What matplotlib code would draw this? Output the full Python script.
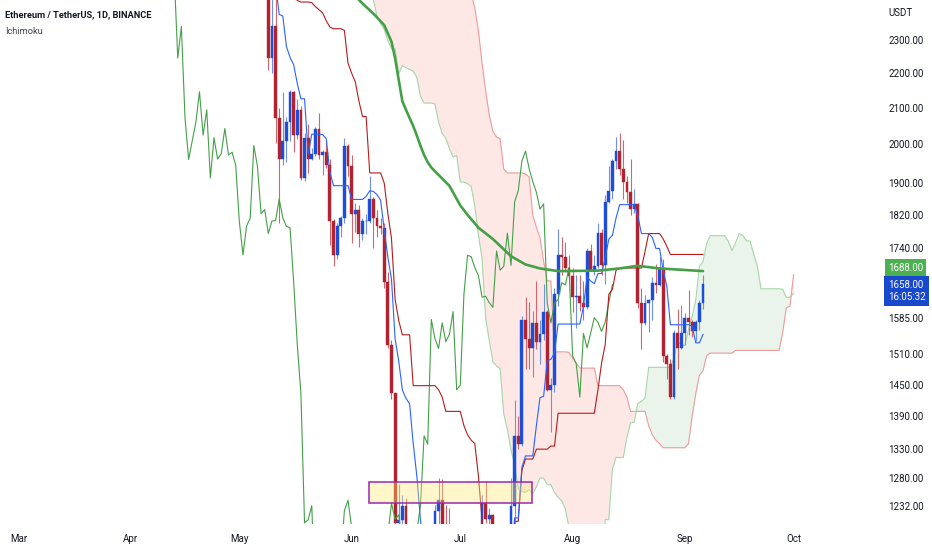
import numpy as np
import pandas as pd
import matplotlib
matplotlib.use('Agg')
import matplotlib.pyplot as plt
import matplotlib.dates as mdates
from matplotlib.patches import Rectangle
from matplotlib.ticker import FixedLocator, NullLocator, FuncFormatter
from matplotlib.transforms import blended_transform_factory, offset_copy

plt.rcParams['font.family'] = ['Roboto', 'DejaVu Sans']

# ETH/USDT daily candles, 2022-05-08 .. 2022-09-06 (last one still open)
first_day = '2022-05-08'
opens = [2636, 2518, 2245, 2342, 2072, 1960, 2010, 2060, 2146, 2025, 2095, 1912, 2018, 1961, 1975, 2043,
         1972, 1979, 1945, 1804, 1725, 1793, 1812, 1997,
         1942, 1823, 1833, 1775, 1805, 1806, 1859, 1813, 1792, 1789, 1664, 1529, 1433, 1205, 1210, 1233,
         1070, 1087, 996, 1127, 1127, 1124, 1050, 1144, 1225, 1242, 1198, 1193, 1144, 1099,
         1067, 1059, 1067, 1074, 1151, 1134, 1186, 1237, 1211, 1218, 1168, 1097, 1038, 1113, 1192, 1233,
         1354, 1339, 1582, 1542, 1522, 1575, 1536, 1551, 1599, 1440, 1449, 1636, 1724, 1721, 1696,
         1678, 1630, 1632, 1618, 1608, 1734, 1690, 1699, 1776, 1701, 1852, 1880, 1956, 1982, 1936, 1903,
         1876, 1834, 1847, 1617, 1575, 1617, 1625, 1662, 1657, 1696, 1507, 1491, 1426, 1553, 1523,
         1554, 1586, 1576, 1557, 1577, 1618]
highs = [2650, 2540, 2450, 2452, 2100, 2145, 2075, 2150, 2148, 2125, 2105, 2030, 2055, 1990, 2048, 2085,
         1985, 2012, 1960, 1810, 1800, 1818, 2016, 2000,
         1972, 1849, 1845, 1813, 1823, 1918, 1865, 1832, 1812, 1800, 1686, 1540, 1433, 1270, 1250, 1245,
         1130, 1090, 1150, 1160, 1180, 1130, 1150, 1235, 1280, 1278, 1235, 1230, 1145, 1110,
         1125, 1075, 1080, 1155, 1167, 1190, 1250, 1275, 1230, 1220, 1170, 1100, 1115, 1200, 1280, 1420,
         1390, 1590, 1630, 1620, 1600, 1665, 1580, 1660, 1602, 1462, 1650, 1785, 1766, 1755, 1725,
         1696, 1680, 1680, 1665, 1740, 1750, 1725, 1800, 1785, 1870, 1942, 1960, 2020, 2030, 2012, 1918,
         1960, 1885, 1849, 1650, 1635, 1627, 1675, 1704, 1720, 1715, 1510, 1500, 1561, 1605, 1613,
         1595, 1645, 1580, 1580, 1625, 1680]
lows = [2480, 2210, 2200, 2005, 1800, 1945, 1953, 2010, 1980, 2015, 1908, 1905, 1925, 1958, 1968, 1960,
        1920, 1938, 1748, 1700, 1715, 1767, 1800, 1918,
        1753, 1779, 1743, 1760, 1775, 1800, 1740, 1766, 1775, 1650, 1522, 1422, 1166, 1075, 1015, 1070,
        1050, 880, 980, 1065, 1100, 1040, 1045, 1130, 1190, 1190, 1172, 1140, 1075, 995,
        1035, 1043, 1050, 1072, 1090, 1117, 1172, 1205, 1200, 1155, 1090, 1035, 1006, 1080, 1185, 1190,
        1330, 1335, 1480, 1480, 1465, 1520, 1490, 1540, 1438, 1360, 1436, 1612, 1680, 1685, 1671,
        1598, 1565, 1600, 1582, 1605, 1690, 1680, 1695, 1680, 1660, 1848, 1860, 1935, 1920, 1860, 1850,
        1820, 1825, 1606, 1520, 1570, 1555, 1580, 1640, 1655, 1495, 1460, 1422, 1422, 1480, 1520,
        1528, 1550, 1545, 1538, 1560, 1605]
closes = [2518, 2245, 2342, 2072, 1960, 2010, 2060, 2146, 2025, 2095, 1912, 2018, 1961, 1975, 2043, 1972,
          1979, 1945, 1804, 1725, 1793, 1812, 1997, 1942,
          1823, 1833, 1775, 1805, 1806, 1859, 1813, 1792, 1789, 1664, 1529, 1433, 1205, 1210, 1233, 1070,
          1087, 996, 1127, 1127, 1124, 1050, 1144, 1225, 1242, 1198, 1193, 1144, 1099, 1067,
          1059, 1067, 1074, 1151, 1134, 1186, 1237, 1211, 1218, 1168, 1097, 1038, 1113, 1192, 1233, 1354,
          1339, 1582, 1542, 1522, 1575, 1536, 1551, 1599, 1440, 1449, 1636, 1724, 1721, 1696, 1678,
          1630, 1632, 1618, 1608, 1734, 1690, 1699, 1776, 1701, 1852, 1880, 1956, 1982, 1936, 1903, 1876,
          1834, 1847, 1617, 1575, 1617, 1625, 1662, 1657, 1696, 1507, 1491, 1426, 1553, 1523, 1554,
          1586, 1576, 1557, 1577, 1618, 1658]

# parts of the Ichimoku lines that need bars from before the first candle
tenkan_early = [2480, 2380, 2375, 2280, 2247]                      # May 11 - May 15
kijun_early = [2500, 2490, 2480, 2470, 2455, 2440, 2425, 2420, 2420, 2420, 2418,
               2405, 2395, 2385, 2360, 2340, 2335, 2335, 2335, 2330, 2230, 2200]   # May 11 - Jun 1
span_b_early = [2760] * 6 + [2700] * 8 + [2620] * 7 + [2560] * 5 + \
               [2500, 2450, 2400, 2330, 2230, 2150, 2080, 2035, 2020, 2015,
                1935, 1925, 1925, 1925, 1925, 1925, 1922, 1915, 1820, 1790]      # Jun 7 - Jul 22

# thick moving average
ma_dates = ['2022-05-31', '2022-06-02', '2022-06-04', '2022-06-07', '2022-06-10', '2022-06-12',
            '2022-06-13', '2022-06-14', '2022-06-15', '2022-06-16', '2022-06-17', '2022-06-18',
            '2022-06-19', '2022-06-20', '2022-06-21', '2022-06-22', '2022-06-23', '2022-06-25',
            '2022-06-28', '2022-07-01', '2022-07-03', '2022-07-06', '2022-07-10', '2022-07-15',
            '2022-07-19', '2022-07-23', '2022-07-28', '2022-08-08', '2022-08-14', '2022-08-19',
            '2022-08-25', '2022-09-06']
ma_values = [2475, 2440, 2415, 2383, 2346, 2295, 2245, 2180, 2119, 2095, 2072, 2050,
             2024, 1996, 1972, 1953, 1939, 1920, 1892, 1843, 1820, 1789, 1762, 1722,
             1703, 1694, 1688, 1689, 1694, 1700, 1694, 1688]

# drawn rectangle
zone_start, zone_end = '2022-06-05 19:00', '2022-07-20 21:00'
zone_low, zone_high = 1237, 1272

price_ticks = [2300, 2200, 2100, 2000, 1900, 1820, 1740, 1585, 1510, 1450, 1390, 1330, 1280, 1232]
month_ticks = pd.date_range('2022-03-01', '2022-10-01', freq='MS')
countdown = '16:05:32'

UP, DOWN = '#1d4fd6', '#b2232f'
UP_WICK, DOWN_WICK = '#7090e4', '#d0676d'

days = pd.date_range(first_day, periods=len(closes), freq='D')
df = pd.DataFrame({'o': opens, 'h': highs, 'l': lows, 'c': closes}, index=days)
full = pd.date_range(first_day, days[-1] + pd.Timedelta(days=25), freq='D')

tenkan = (df.h.rolling(9).max() + df.l.rolling(9).min()) / 2
tenkan.loc['2022-05-11':'2022-05-15'] = tenkan_early
kijun = (df.h.rolling(26).max() + df.l.rolling(26).min()) / 2
kijun.loc['2022-05-11':'2022-06-01'] = kijun_early
span_a = ((tenkan + kijun) / 2).reindex(full).shift(25)
span_b = ((df.h.rolling(52).max() + df.l.rolling(52).min()) / 2).reindex(full).shift(25)
span_b.loc['2022-06-07':'2022-07-22'] = span_b_early

fig = plt.figure(figsize=(9.32, 5.5), dpi=100)
ax = fig.add_axes([0, 26 / 550, 870 / 932, 524 / 550])
ax.set_yscale('log')

# cloud
cloud = pd.DataFrame({'a': span_a, 'b': span_b}).dropna()
cx = mdates.date2num(cloud.index)
ax.fill_between(cx, cloud.a, cloud.b, where=cloud.a >= cloud.b, interpolate=True,
                color='#43a047', alpha=0.11, lw=0, zorder=1)
ax.fill_between(cx, cloud.a, cloud.b, where=cloud.a < cloud.b, interpolate=True,
                color='#f44336', alpha=0.12, lw=0, zorder=1)
ax.plot(cx, cloud.a, color='#a5d6a7', lw=0.8, zorder=1.2)
ax.plot(cx, cloud.b, color='#ef9a9a', lw=0.8, zorder=1.2)

# candles
x = mdates.date2num(days)
up = df.c >= df.o
ax.vlines(x, df.l, df.h, colors=np.where(up, UP_WICK, DOWN_WICK), lw=0.8, zorder=2)
body_lo = np.minimum(df.o, df.c)
body_h = np.abs(df.c - df.o)
ax.bar(x, body_h, bottom=body_lo, width=0.78, color=np.where(up, UP, DOWN),
       edgecolor=np.where(up, UP, DOWN), lw=0.3, zorder=2.1)

# lagging span, base and conversion lines
ax.plot(x - 25, df.c, color='#43a047', lw=0.8, zorder=3)
ax.plot(mdates.date2num(kijun.dropna().index), kijun.dropna(), color='#b71c1c', lw=0.8, zorder=3)
ax.plot(mdates.date2num(tenkan.dropna().index), tenkan.dropna(), color='#2962ff', lw=0.8, zorder=3.1)

# moving average
ax.plot(mdates.date2num(pd.to_datetime(ma_dates)), ma_values, color='#43a047', lw=1.9,
        zorder=4, solid_capstyle='round', solid_joinstyle='round')

# rectangle drawing
zs, ze = mdates.date2num(pd.Timestamp(zone_start)), mdates.date2num(pd.Timestamp(zone_end))
ax.add_patch(Rectangle((zs, zone_low), ze - zs, zone_high - zone_low, facecolor='#ffe873',
                       alpha=0.38, edgecolor='none', zorder=5))
ax.add_patch(Rectangle((zs, zone_low), ze - zs, zone_high - zone_low, facecolor='none',
                       edgecolor='#9c27b0', lw=1.1, zorder=5.1))

day0 = mdates.date2num(pd.Timestamp('2022-05-09'))
ax.set_xlim(day0 - 74.07, day0 + 166.1)
ax.set_ylim(1203.2, 2426.5)

for s in ax.spines.values():
    s.set_visible(False)

ax.yaxis.tick_right()
ax.yaxis.set_major_locator(FixedLocator(price_ticks))
ax.yaxis.set_minor_locator(NullLocator())
ax.yaxis.set_major_formatter(FuncFormatter(lambda v, p: f'{v:.2f}'))
ax.tick_params(axis='y', which='both', length=0, pad=13, labelsize=7, labelcolor='#131722')
ax.set_xticks(mdates.date2num(month_ticks))
ax.set_xticklabels([d.strftime('%b') for d in month_ticks])
ax.tick_params(axis='x', length=0, pad=7, labelsize=7, labelcolor='#131722')

# price scale labels
trans = blended_transform_factory(ax.transAxes, ax.transData)
ax.text(888 / 870, ma_values[-1], f'{ma_values[-1]:.2f}', color='white', fontsize=7,
        ha='left', va='center', transform=offset_copy(trans, fig=fig, x=0, y=3.5, units='dots'),
        bbox=dict(boxstyle='square,pad=0.32', fc='#4caf50', ec='none'), clip_on=False, zorder=10)
ax.text(888 / 870, closes[-1], f'{closes[-1]:.2f}\n{countdown}', color='white', fontsize=7,
        ha='left', va='center', linespacing=1.35,
        transform=offset_copy(trans, fig=fig, x=0, y=-6.5, units='dots'),
        bbox=dict(boxstyle='square,pad=0.38', fc='#1848cc', ec='none'), clip_on=False, zorder=11)

fig.text(888 / 932, 1 - 13 / 550, 'USDT', fontsize=7, color='#131722', va='center', ha='left')
fig.text(5 / 932, 1 - 15 / 550, 'Ethereum / TetherUS, 1D, BINANCE', fontsize=6.7,
         weight='semibold', color='#131722', va='center', ha='left')
fig.text(5 / 932, 1 - 32 / 550, 'Ichimoku', fontsize=6.7, color='#434651', va='center', ha='left')

fig.savefig('out.png', dpi=100)
